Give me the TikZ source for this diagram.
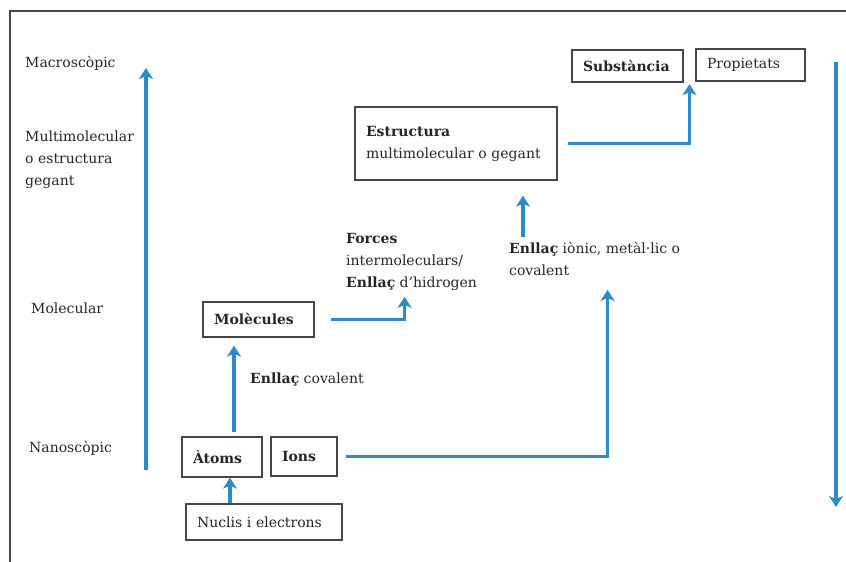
\documentclass[tikz,border=0pt]{standalone}
\usepackage{fontspec}
\setmainfont{DejaVu Serif}
\usetikzlibrary{arrows.meta,calc}
\definecolor{flowblue}{RGB}{46,139,201}
\definecolor{boxgray}{RGB}{70,70,70}

\begin{document}
\begin{tikzpicture}[x=1pt,y=1pt,
    box/.style={draw=boxgray,line width=1.3pt,align=left,inner xsep=11pt,inner ysep=0pt},
    lvl/.style={inner sep=0pt,align=left,anchor=west},
    flow/.style={flowblue,line width=3.2pt,-{Stealth[length=11pt,width=14pt,inset=3pt]}},
    font=\fontsize{14}{22}\selectfont,text=black!85]
        \useasboundingbox (0,0) rectangle (846,562);
        \draw [boxgray,line width=1.2pt] (10,0) -- (10,551) -- (846,551);

        \node [lvl] at (25,499) (macro) {Macroscòpic};
        \node [lvl] at (25,402) (multi) {Multimolecular\\o estructura\\gegant};
        \node [lvl] at (31,254) (molec) {Molecular};
        \node [lvl] at (29,114) (nano) {Nanoscòpic};

        \coordinate (upbot) at (146,92);
        \coordinate (uptop) at (146,494);
        \coordinate (downtop) at (836,500);
        \coordinate (downbot) at (836,55);

        \node [box,text width=89,minimum height=32] at (627.5,496) (subst) {\textbf{Substància}};
        \node [box,text width=87,minimum height=32] at (750.5,497) (prop) {Propietats};
        \node [box,text width=180,minimum height=73] at (456,418.5) (estr) {\textbf{Estructura}\\multimolecular o gegant};
        \node [box,text width=89,minimum height=35] at (258.5,242.5) (mol) {\textbf{Molècules}};
        \node [box,text width=58,minimum height=40] at (222,105) (atoms) {\textbf{Àtoms}};
        \node [box,text width=44,minimum height=39] at (304,105.5) (ions) {\textbf{Ions}};
        \node [box,text width=134,minimum height=36] at (264,40) (nuclis) {Nuclis i electrons};

        \node [lvl] at (250,182) (cov) {\textbf{Enllaç} covalent};
        \node [lvl] at (346,300) (forces) {\textbf{Forces}\\intermoleculars/\\\textbf{Enllaç} d’hidrogen};
        \node [lvl] at (509,303) (ionic) {\textbf{Enllaç} iònic, metàl·lic o\\covalent};
        \coordinate (gap) at ($(subst.south east)!.5!(prop.south west)+(0,-2)$);

        \draw [flow] (upbot) -- (uptop);
        \draw [flow] (downtop) -- (downbot);
        \draw [flow] ([xshift=8pt]nuclis.north -| atoms.south) -- ([xshift=8pt]atoms.south);
        \draw [flow] ([xshift=12pt,yshift=4pt]atoms.north) -- ([xshift=12pt,yshift=-8pt]atoms.north |- mol.south);
        \draw [flow] ([xshift=16pt]mol.east) -| ([xshift=-7pt,yshift=-6pt]forces.south);
        \draw [flow] ([xshift=8pt]ions.east) -| ([xshift=13pt,yshift=-14pt]ionic.south);
        \draw [flow] ([xshift=14pt,yshift=5pt]ionic.north west) -- ([xshift=14pt,yshift=-15pt]ionic.north west |- estr.south);
        \draw [flow] ([xshift=10pt]estr.east) -| (gap);
      \end{tikzpicture}
\end{document}
